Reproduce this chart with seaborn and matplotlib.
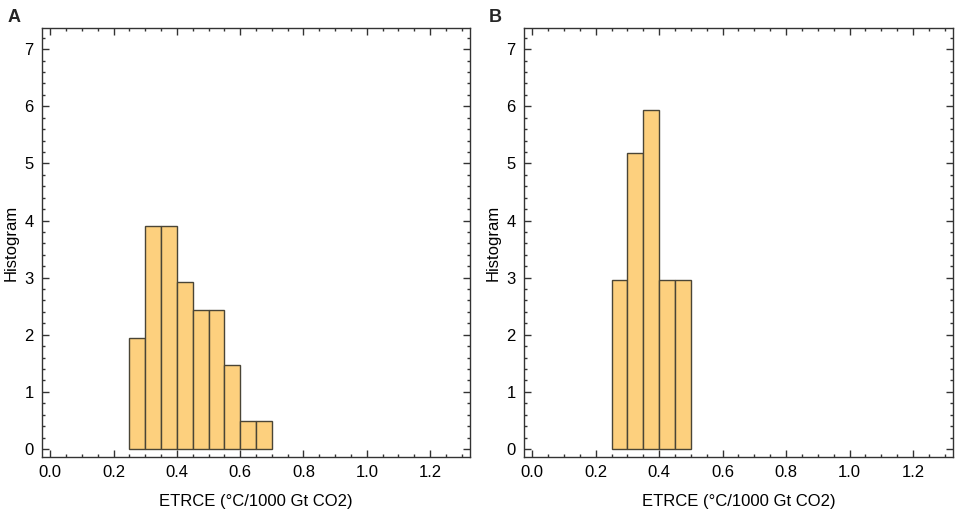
import numpy as np
import matplotlib
matplotlib.use('Agg')
import matplotlib.pyplot as plt
import seaborn as sns
from matplotlib.ticker import MultipleLocator

# bin edges (ETRCE, °C/1000 Gt CO2) and counts per bin
edges_a = [0.25, 0.30, 0.35, 0.40, 0.45, 0.50, 0.55, 0.60, 0.65, 0.70]
counts_a = [4, 8, 8, 6, 5, 5, 3, 1, 1]

edges_b = [0.25, 0.30, 0.35, 0.40, 0.45, 0.50]
counts_b = [4, 7, 8, 4, 4]

panel_labels = ['A', 'B']
xlabel = 'ETRCE (°C/1000 Gt CO2)'
ylabel = 'Histogram'

sns.set_style('white')
plt.rcParams['font.family'] = ['Liberation Sans', 'DejaVu Sans']
fontsize = 12

fig = plt.figure(figsize=(9.57, 5.11), dpi=100)
ax_a = fig.add_axes([0.0439, 0.1057, 0.4472, 0.8395])
ax_b = fig.add_axes([0.5475, 0.1057, 0.4483, 0.8395])

fill = '#fdd07e'
edge = '#4a4536'

# panel letter positions in figure fraction
label_x = [8 / 957, 489 / 957]

for ax, edges, counts, lab, lx in [(ax_a, edges_a, counts_a, 'A', label_x[0]),
                                   (ax_b, edges_b, counts_b, 'B', label_x[1])]:
    centers = [(edges[i] + edges[i + 1]) / 2 for i in range(len(counts))]
    sns.histplot(x=centers, weights=counts, bins=edges, stat='density',
                 color=fill, edgecolor=edge, linewidth=1.0, alpha=1, ax=ax)
    ax.set_xlim(-0.026, 1.326)
    ax.set_ylim(-0.14, 7.37)
    ax.xaxis.set_major_locator(MultipleLocator(0.2))
    ax.xaxis.set_minor_locator(MultipleLocator(0.05))
    ax.yaxis.set_major_locator(MultipleLocator(1))
    ax.yaxis.set_minor_locator(MultipleLocator(0.2))
    ax.xaxis.set_major_formatter(matplotlib.ticker.FormatStrFormatter('%.1f'))
    ax.tick_params(which='both', direction='in', top=True, right=True,
                   bottom=True, left=True, color='#333333', width=1,
                   labelsize=fontsize, labelcolor='black')
    ax.tick_params(which='major', length=5, pad=6)
    ax.tick_params(which='minor', length=2.5)
    ax.tick_params(labeltop=False, labelright=False)
    for s in ax.spines.values():
        s.set_color('#333333')
        s.set_linewidth(1)
    ax.set_xlabel(xlabel, fontsize=fontsize, labelpad=10, color='black')
    ax.set_ylabel(ylabel, fontsize=fontsize, labelpad=4, color='black')
    fig.text(lx, 1 - 22 / 511, lab, fontsize=13, fontweight='bold',
             ha='left', va='baseline')

plt.savefig('out.png', dpi=100)
